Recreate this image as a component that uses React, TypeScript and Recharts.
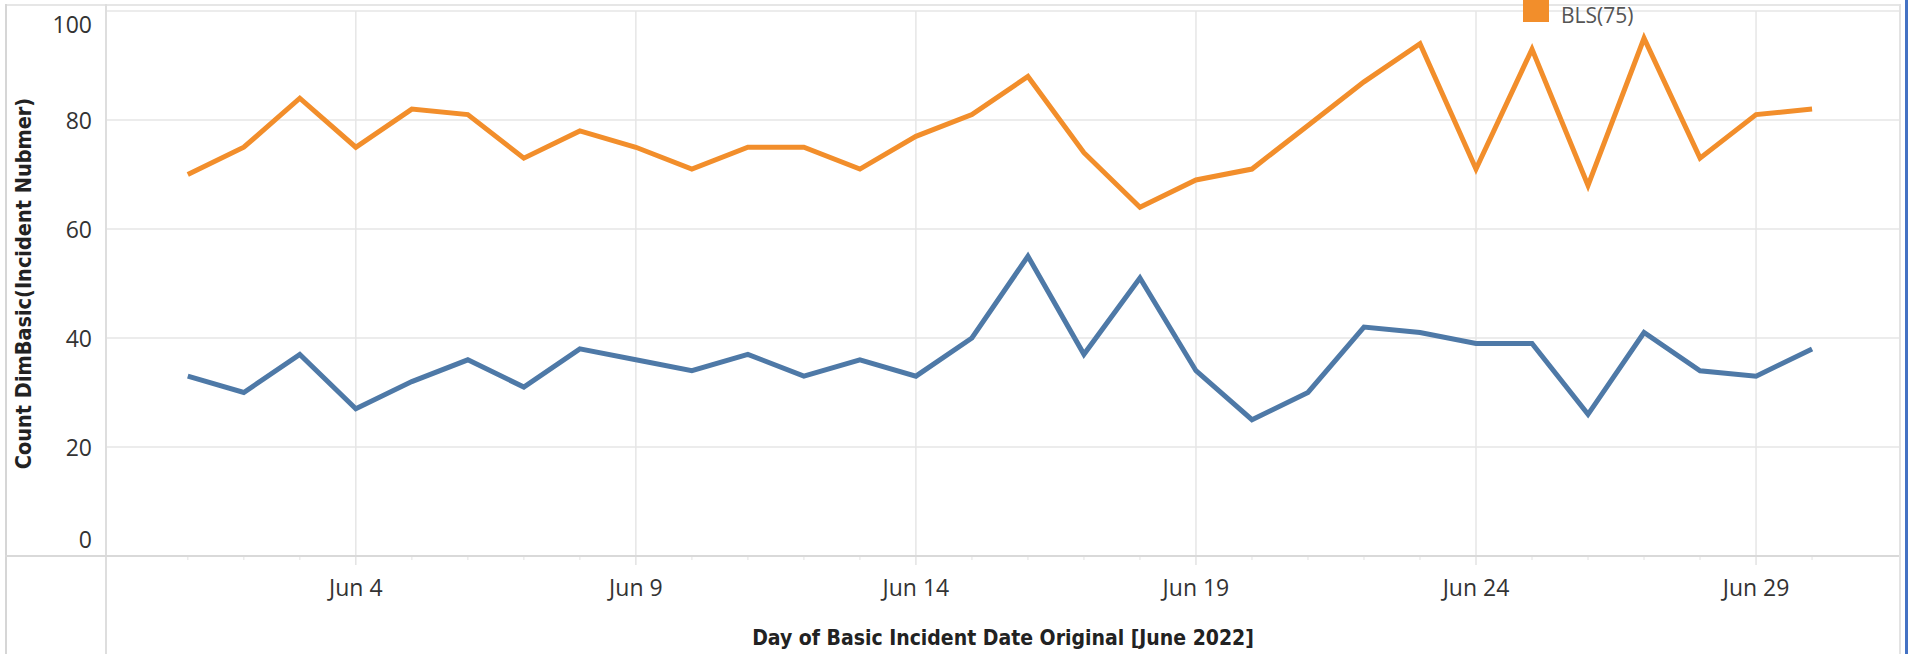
import { LineChart, Line, XAxis, YAxis, CartesianGrid } from 'recharts';

// June 2022, day of month
const days = [1, 2, 3, 4, 5, 6, 7, 8, 9, 10, 11, 12, 13, 14, 15, 16, 17, 18, 19, 20, 21, 22, 23, 24, 25, 26, 27, 28, 29, 30];
const blsCounts = [70, 75, 84, 75, 82, 81, 73, 78, 75, 71, 75, 75, 71, 77, 81, 88, 74, 64, 69, 71, 79, 87, 94, 71, 93, 68, 95, 73, 81, 82];
const alsCounts = [33, 30, 37, 27, 32, 36, 31, 38, 36, 34, 37, 33, 36, 33, 40, 55, 37, 51, 34, 25, 30, 42, 41, 39, 39, 26, 41, 34, 33, 38];
const majorTicks = [4, 9, 14, 19, 24, 29];
const yTicks = [0, 20, 40, 60, 80, 100];

const data = days.map((d, i) => ({ day: d, bls: blsCounts[i], als: alsCounts[i] }));

const TICK_FONT = '"Open Sans", "Noto Sans", sans-serif';
const TITLE_FONT = '"Liberation Sans Narrow", "DejaVu Sans Condensed", sans-serif';

function YTick(props: any) {
  const { x, y, payload } = props;
  // tableau keeps the end labels inside the pane
  let dy = 0;
  if (payload.value === 100) dy = 13;
  if (payload.value === 0) dy = -17;
  return (
    <text x={x} y={y + dy} textAnchor="end" dominantBaseline="central"
      fontFamily={TICK_FONT} fontSize={23} fill="#333">
      {payload.value}
    </text>
  );
}

function XTick(props: any) {
  const { x, y, payload } = props;
  const major = majorTicks.includes(payload.value);
  return (
    <g>
      <line x1={x} x2={x} y1={y} y2={y + (major ? 9 : 4)} stroke={major ? '#e3e3e3' : '#ececec'} strokeWidth={1.5} />
      {major && (
        <text x={x} y={y + 31} textAnchor="middle" dominantBaseline="central"
          fontFamily={TICK_FONT} fontSize={23} fill="#333">
          {`Jun ${payload.value}`}
        </text>
      )}
    </g>
  );
}

const line = (style: React.CSSProperties) => <div style={{ position: 'absolute', ...style }} />;

export default function App() {
  return (
    <div style={{ position: 'absolute', left: 0, top: 0, width: 1913, height: 654, background: '#fff', overflow: 'hidden' }}>
      <LineChart width={1913} height={654} data={data} margin={{ top: 11, right: 13, bottom: 0, left: 6 }}>
        <CartesianGrid stroke="#e6e6e6" strokeWidth={1.5} verticalValues={majorTicks} />
        <XAxis
          dataKey="day"
          type="number"
          domain={[-0.46, 31.57]}
          ticks={days}
          interval={0}
          height={98}
          axisLine={false}
          tickLine={false}
          tickSize={0}
          tickMargin={0}
          tick={<XTick />}
          label={{
            value: 'Day of Basic Incident Date Original [June 2022]',
            position: 'insideBottom',
            offset: 9,
            style: { fontFamily: TITLE_FONT, fontWeight: 700, fontSize: 21, fill: '#222' },
          }}
        />
        <YAxis
          type="number"
          domain={[0, 100]}
          ticks={yTicks}
          width={100}
          axisLine={false}
          tickLine={false}
          tickSize={0}
          tickMargin={14}
          tick={<YTick />}
          label={{
            value: 'Count DimBasic(Incident Nubmer)',
            angle: -90,
            position: 'insideLeft',
            offset: 17,
            style: { textAnchor: 'middle', fontFamily: TITLE_FONT, fontWeight: 700, fontSize: 21.5, fill: '#222' },
          }}
        />
        <Line type="linear" dataKey="als" name="ALS" stroke="#4e79a7" strokeWidth={5} dot={false} isAnimationActive={false} />
        <Line type="linear" dataKey="bls" name="BLS(75)" stroke="#f28e2b" strokeWidth={5} dot={false} isAnimationActive={false} />
      </LineChart>

      {/* pane borders */}
      {line({ left: 5, top: 4, width: 1896, height: 2, background: '#e6e6e6' })}
      {line({ left: 5, top: 4, width: 2, height: 650, background: '#d6d6d6' })}
      {line({ left: 105, top: 4, width: 2, height: 650, background: '#dedede' })}
      {line({ left: 5, top: 555, width: 1896, height: 2, background: '#d9d9d9' })}
      {line({ left: 1899, top: 4, width: 2, height: 650, background: '#e3e3e3' })}
      {line({ left: 1905, top: 0, width: 3, height: 654, background: '#4472c4' })}

      {/* legend (sits at the very top edge in the original) */}
      <div style={{ position: 'absolute', left: 1523, top: 0, width: 26, height: 22, background: '#f28e2b' }} />
      <div style={{ position: 'absolute', left: 1561, top: 4, fontFamily: TICK_FONT, fontSize: 21, lineHeight: '22px', color: '#555', whiteSpace: 'nowrap' }}>
        BLS(75)
      </div>
    </div>
  );
}
